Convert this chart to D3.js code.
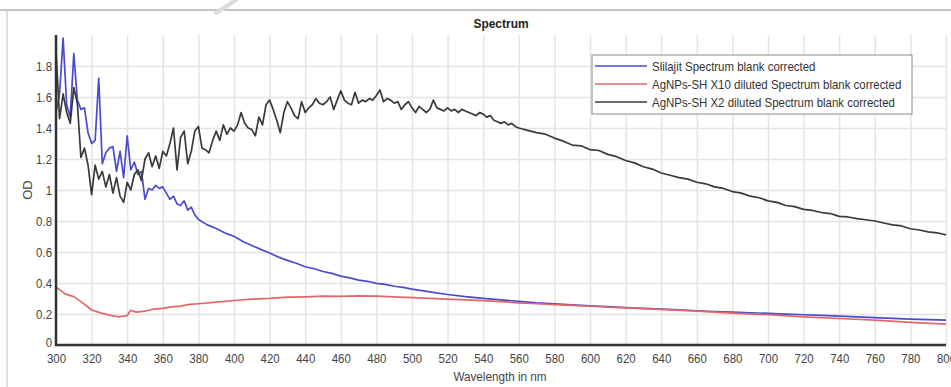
<!DOCTYPE html>
<html>
<head>
<meta charset="utf-8">
<script src="https://cdn.jsdelivr.net/npm/d3@7"></script>
<style>
  body { margin: 0; background: #fff; }
  svg { display: block; }
  .grid line { stroke: #e4e4e4; stroke-width: 1.5; }
  .grid path { display: none; }
  .tick-label { font-family: 'Liberation Sans', Arial, sans-serif; font-size: 13px; fill: #444; }
  .legend text { font-family: 'Liberation Sans', Arial, sans-serif; font-size: 13px; fill: #333; }
</style>
</head>
<body>
<svg id="chart" width="951" height="387"></svg>
<script>
// tick labels
const xTicks = [300, 320, 340, 360, 380, 400, 420, 440, 460, 480, 500, 520, 540, 560, 580, 600, 620, 640, 660, 680, 700, 720, 740, 760, 780, 800];
const yTicks = [0, 0.2, 0.4, 0.6, 0.8, 1, 1.2, 1.4, 1.6, 1.8];

// Slilajit Spectrum blank corrected (blue)
const wlSlilajit = [300, 302, 304, 306, 308, 310, 312, 314, 316, 318, 320, 322, 324, 326, 328, 330, 332, 334, 336, 338,
  340, 342, 344, 346, 348, 350, 352, 354, 356, 358, 360, 362, 364, 366, 368, 370, 372, 374, 376, 378, 380,
  385, 390, 395, 400, 405, 410, 415, 420, 425, 430, 435, 440, 445, 450, 455, 460, 465, 470, 475, 480, 485, 490, 495, 500,
  510, 520, 530, 540, 550, 560, 570, 580, 590, 600, 610, 620, 630, 640, 650, 660, 670, 680, 690, 700,
  710, 720, 730, 740, 750, 760, 770, 780, 790, 800];
const odSlilajit = [1.50, 1.62, 1.98, 1.55, 1.47, 1.88, 1.58, 1.52, 1.53, 1.37, 1.30, 1.32, 1.72, 1.17, 1.24, 1.27, 1.28, 1.12, 1.25, 1.08,
  1.35, 1.13, 1.18, 1.10, 1.12, 0.94, 1.01, 1.00, 1.03, 1.01, 1.02, 0.98, 0.94, 0.96, 0.91, 0.90, 0.93, 0.87, 0.89, 0.84, 0.81,
  0.775, 0.752, 0.722, 0.702, 0.668, 0.642, 0.617, 0.594, 0.567, 0.546, 0.527, 0.505, 0.492, 0.474, 0.462, 0.444, 0.433, 0.419, 0.411, 0.398, 0.391, 0.379, 0.372, 0.361,
  0.343, 0.326, 0.312, 0.301, 0.291, 0.281, 0.272, 0.266, 0.259, 0.252, 0.247, 0.241, 0.236, 0.231, 0.226, 0.221, 0.216, 0.212, 0.208, 0.204,
  0.199, 0.195, 0.191, 0.186, 0.182, 0.177, 0.172, 0.167, 0.164, 0.160];

// AgNPs-SH X10 diluted Spectrum blank corrected (red)
const wlX10 = [300, 305, 310, 315, 320, 325, 330, 335, 338, 340, 342, 345, 350, 355, 360, 365, 370, 375, 380,
  390, 400, 410, 420, 430, 440, 450, 460, 470, 480, 490, 500, 510, 520, 530, 540, 550, 560, 570, 580, 590, 600,
  620, 640, 660, 680, 700, 720, 740, 760, 780, 800];
const odX10 = [0.375, 0.330, 0.312, 0.272, 0.226, 0.207, 0.193, 0.182, 0.186, 0.190, 0.224, 0.212, 0.218, 0.232, 0.236, 0.246, 0.251, 0.262, 0.266,
  0.276, 0.287, 0.296, 0.301, 0.309, 0.311, 0.315, 0.314, 0.317, 0.315, 0.311, 0.306, 0.301, 0.296, 0.291, 0.286, 0.280, 0.272, 0.266, 0.260, 0.256, 0.250,
  0.240, 0.230, 0.219, 0.206, 0.195, 0.181, 0.171, 0.160, 0.146, 0.135];

// AgNPs-SH X2 diluted Spectrum blank corrected (black)
const wlX2 = [300, 302, 304, 306, 308, 310, 312, 314, 316, 318, 320, 322, 324, 326, 328, 330, 332, 334, 336, 338,
  340, 342, 344, 346, 348, 350, 352, 354, 356, 358, 360, 362, 364, 366, 368, 370, 372, 374, 376, 378,
  380, 382, 384, 386, 388, 390, 392, 394, 396, 398, 400, 402, 404, 406, 408, 410, 412, 414, 416, 418,
  420, 422, 424, 426, 428, 430, 432, 434, 436, 438, 440, 442, 444, 446, 448, 450, 452, 454, 456, 458,
  460, 462, 464, 466, 468, 470, 472, 474, 476, 478, 480, 482, 484, 486, 488, 490, 492, 494, 496, 498,
  500, 502, 504, 506, 508, 510, 512, 514, 516, 518, 520, 522, 524, 526, 528, 530, 532, 534, 536, 538,
  540, 542, 544, 546, 548, 550, 552, 554, 556, 558, 560,
  565, 570, 575, 580, 585, 590, 595, 600, 605, 610, 615, 620, 625, 630, 635, 640, 645, 650, 655, 660,
  665, 670, 675, 680, 685, 690, 695, 700, 705, 710, 715, 720, 725, 730, 735, 740, 745, 750, 755, 760,
  765, 770, 775, 780, 785, 790, 795, 800];
const odX2 = [1.90, 1.46, 1.62, 1.50, 1.43, 1.66, 1.56, 1.21, 1.27, 1.16, 0.97, 1.16, 1.07, 1.12, 1.02, 1.10, 0.98, 1.08, 0.96, 0.92,
  1.05, 1.00, 1.10, 1.13, 1.06, 1.20, 1.24, 1.15, 1.22, 1.14, 1.25, 1.22, 1.30, 1.40, 1.13, 1.34, 1.38, 1.17, 1.25, 1.38,
  1.41, 1.27, 1.26, 1.24, 1.32, 1.38, 1.32, 1.42, 1.36, 1.40, 1.38, 1.42, 1.50, 1.43, 1.40, 1.39, 1.35, 1.47, 1.42, 1.55,
  1.58, 1.52, 1.45, 1.37, 1.50, 1.57, 1.53, 1.48, 1.46, 1.57, 1.50, 1.53, 1.55, 1.59, 1.56, 1.55, 1.57, 1.60, 1.52, 1.58,
  1.64, 1.58, 1.56, 1.55, 1.63, 1.56, 1.58, 1.57, 1.59, 1.58, 1.61, 1.645, 1.57, 1.59, 1.58, 1.56, 1.57, 1.52, 1.55, 1.57,
  1.53, 1.50, 1.54, 1.52, 1.50, 1.52, 1.58, 1.53, 1.52, 1.51, 1.53, 1.51, 1.52, 1.50, 1.52, 1.51, 1.50, 1.49, 1.48, 1.50,
  1.49, 1.47, 1.48, 1.45, 1.44, 1.43, 1.44, 1.42, 1.43, 1.41, 1.40,
  1.385, 1.37, 1.36, 1.335, 1.315, 1.29, 1.285, 1.26, 1.255, 1.23, 1.215, 1.19, 1.175, 1.15, 1.135, 1.11, 1.095, 1.08, 1.07, 1.05,
  1.04, 1.02, 1.01, 0.99, 0.98, 0.96, 0.95, 0.93, 0.92, 0.90, 0.893, 0.875, 0.868, 0.855, 0.848, 0.83, 0.826, 0.815, 0.808, 0.80,
  0.787, 0.775, 0.768, 0.75, 0.742, 0.73, 0.724, 0.71];

const series = [
  {label: 'Slilajit Spectrum blank corrected', color: '#4b4bcf', wl: wlSlilajit, od: odSlilajit},
  {label: 'AgNPs-SH X10 diluted Spectrum blank corrected', color: '#e2676a', wl: wlX10, od: odX10},
  {label: 'AgNPs-SH X2 diluted Spectrum blank corrected', color: '#3a3a3a', wl: wlX2, od: odX2}
];

const svg = d3.select('#chart');
const margin = {top: 35, right: 5, bottom: 42, left: 56};
const width = 951 - margin.left - margin.right;
const height = 387 - margin.top - margin.bottom;

// squeeze a text to look like the narrow font of the original
function narrow(sel, factor) {
  sel.each(function () {
    const w = this.getComputedTextLength();
    d3.select(this).attr('textLength', w * factor).attr('lengthAdjust', 'spacingAndGlyphs');
  });
}

// outer frame (top and left edge of the original panel)
svg.append('line').attr('x1', 0).attr('x2', 951).attr('y1', 10).attr('y2', 10)
  .attr('stroke', '#c4c4c4').attr('stroke-width', 2);
svg.append('line').attr('x1', 7).attr('x2', 7).attr('y1', 10).attr('y2', 387)
  .attr('stroke', '#d4d4d4').attr('stroke-width', 1.5);
// faint diagonal mark at the top
svg.append('line').attr('x1', 236).attr('y1', 0).attr('x2', 216).attr('y2', 13)
  .attr('stroke', '#dcdcdc').attr('stroke-width', 4).attr('stroke-linecap', 'round');

svg.append('text')
  .attr('x', 501).attr('y', 28)
  .attr('text-anchor', 'middle')
  .style('font-family', "'Liberation Sans', Arial, sans-serif")
  .style('font-size', '13px').style('font-weight', 'bold').style('fill', '#222')
  .text('Spectrum')
  .call(narrow, 0.92);

const g = svg.append('g').attr('transform', 'translate(' + margin.left + ',' + margin.top + ')');

const x = d3.scaleLinear().domain([300, 800]).range([0, 890]);
const y = d3.scaleLinear().domain([0, 2]).range([height, 0]);

// gridlines
g.append('g').attr('class', 'grid')
  .attr('transform', 'translate(0,' + height + ')')
  .call(d3.axisBottom(x).tickValues(xTicks).tickSize(-height).tickFormat(''));
g.append('g').attr('class', 'grid')
  .call(d3.axisLeft(y).tickValues(yTicks).tickSize(-width).tickFormat(''));

// lines
const line = d3.line()
  .x(d => x(d[0]))
  .y(d => y(d[1]));

series.forEach(s => {
  const pts = s.wl.map((w, i) => [w, s.od[i]]);
  g.append('path')
    .datum(pts)
    .attr('fill', 'none')
    .attr('stroke', s.color)
    .attr('stroke-width', 1.7)
    .attr('stroke-linejoin', 'round')
    .attr('d', line);
});

// axes
const xAxis = g.append('g')
  .attr('transform', 'translate(0,' + height + ')')
  .call(d3.axisBottom(x).tickValues(xTicks).tickSize(0).tickPadding(9).tickFormat(d3.format('d')));
xAxis.select('.domain').remove();
xAxis.selectAll('text').attr('class', 'tick-label').attr('fill', null).call(narrow, 0.88);
g.append('line').attr('x1', -1).attr('x2', width).attr('y1', height).attr('y2', height)
  .attr('stroke', '#333').attr('stroke-width', 2.5);

const yAxis = g.append('g')
  .call(d3.axisLeft(y).tickValues(yTicks).tickSize(0).tickPadding(4).tickFormat(d => String(d)));
yAxis.select('.domain').remove();
yAxis.selectAll('text').attr('class', 'tick-label').attr('fill', null).call(narrow, 0.88);
yAxis.selectAll('.tick').filter(d => d === 0).select('text').attr('dy', '0.1em');
g.append('line').attr('x1', 0).attr('x2', 0).attr('y1', 0).attr('y2', height + 1)
  .attr('stroke', '#333').attr('stroke-width', 2.5);

// axis titles
svg.append('text')
  .attr('transform', 'translate(32,190) rotate(-90)')
  .attr('text-anchor', 'middle')
  .attr('class', 'tick-label')
  .style('font-size', '13px')
  .text('OD');
svg.append('text')
  .attr('x', 500).attr('y', 381)
  .attr('text-anchor', 'middle')
  .attr('class', 'tick-label')
  .style('font-size', '13px')
  .text('Wavelength in nm')
  .call(narrow, 0.9);

// legend
const legend = svg.append('g').attr('class', 'legend').attr('transform', 'translate(592,55)');
legend.append('rect').attr('width', 320).attr('height', 59)
  .attr('fill', '#fff').attr('stroke', '#8a8a8a').attr('stroke-width', 1);
series.forEach((s, i) => {
  const ly = 11 + i * 18;
  legend.append('line').attr('x1', 3).attr('x2', 55).attr('y1', ly).attr('y2', ly)
    .attr('stroke', s.color).attr('stroke-width', 1.7);
  legend.append('text').attr('x', 60).attr('y', ly).attr('dy', '0.35em').text(s.label)
    .call(narrow, 0.88);
});
</script>
</body>
</html>
